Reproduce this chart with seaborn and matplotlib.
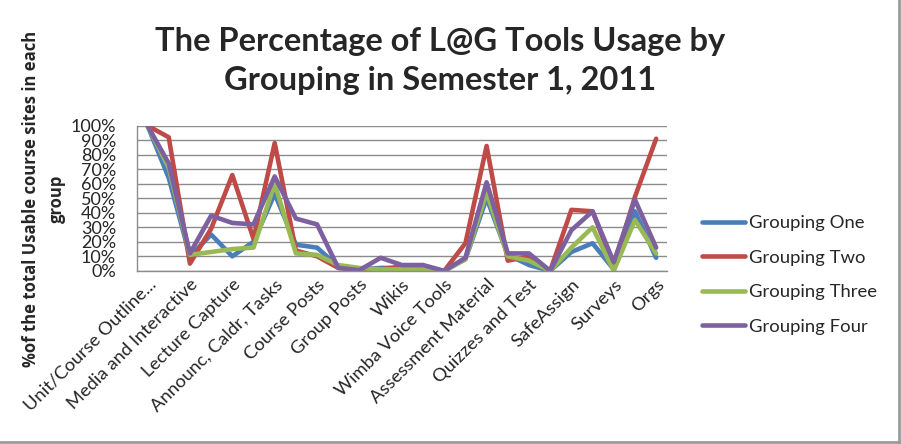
import matplotlib
matplotlib.use("Agg")
import matplotlib.pyplot as plt
from matplotlib.lines import Line2D
from matplotlib.ticker import PercentFormatter
import matplotlib.transforms as mtransforms
import seaborn as sns
import pandas as pd

# Percentage of course sites using each tool, 25 category points (Excel shows every other label)
tick_labels = ["Unit/Course Outline...", "Media and Interactive", "Lecture Capture",
               "Announc, Caldr, Tasks", "Course Posts", "Group Posts", "Wikis",
               "Wimba Voice Tools", "Assessment Material", "Quizzes and Test",
               "SafeAssign", "Surveys", "Orgs"]

group_one = [100, 64, 10, 25, 10, 20, 53, 18, 16, 3, 1, 2, 2, 2, 0, 8, 50, 11, 4, 0, 13, 19, 1, 41, 9]
group_two = [100, 92, 5, 29, 66, 22, 88, 14, 10, 2, 1, 1, 3, 2, 0, 19, 86, 7, 10, 0, 42, 41, 3, 51, 91]
group_three = [100, 71, 11, 13, 15, 16, 60, 12, 11, 4, 2, 1, 1, 1, 0, 8, 54, 10, 7, 0, 16, 30, 0, 35, 12]
group_four = [100, 74, 12, 38, 33, 32, 65, 36, 32, 2, 0.5, 9, 4, 4, 0, 9, 61, 12, 12, 0, 28, 41, 6, 49, 16]

series_names = ["Grouping One", "Grouping Two", "Grouping Three", "Grouping Four"]
colors = ["#4A7EBB", "#BE4B48", "#98B954", "#7D60A0"]

rows = []
for name, vals in zip(series_names, [group_one, group_two, group_three, group_four]):
    for i, v in enumerate(vals):
        rows.append({"pos": i, "pct": v, "group": name})
df = pd.DataFrame(rows)

sns.set_style("white")
plt.rcParams["font.family"] = ["Lato", "DejaVu Sans"]

fig = plt.figure(figsize=(9.01, 4.44), dpi=100)
ax = fig.add_axes([0.152, 0.390, 0.588, 0.327])

sns.lineplot(data=df, x="pos", y="pct", hue="group", palette=colors,
             hue_order=series_names, linewidth=3.3, ax=ax, legend=True)

ax.set_xlim(-0.5, len(group_one) - 0.5)
ax.set_ylim(0, 100)
ax.set_yticks(range(0, 101, 10))
ax.yaxis.set_major_formatter(PercentFormatter(decimals=0))
ax.grid(axis="y", color="#8C8C8C", linewidth=1.0)
ax.set_axisbelow(True)
for side in ["top", "right"]:
    ax.spines[side].set_visible(False)
for side in ["left", "bottom"]:
    ax.spines[side].set_color("#8C8C8C")
    ax.spines[side].set_linewidth(1.0)

ax.set_xticks(range(0, len(group_one), 2))
ax.set_xticklabels(tick_labels, rotation=45, ha="right", rotation_mode="anchor", fontsize=13.2)
shift = mtransforms.ScaledTranslation(10 / 100, -4 / 100, fig.dpi_scale_trans)
for lab in ax.get_xticklabels():
    lab.set_transform(lab.get_transform() + shift)
ax.tick_params(axis="x", length=0, pad=4)
ax.tick_params(axis="y", length=0, pad=15, labelsize=13)
ax.set_xlabel("")
ax.set_ylabel("")

fig.text(0.488, 0.862, "The Percentage of L@G Tools Usage by\nGrouping in Semester 1, 2011",
         ha="center", va="center", fontsize=23.5, fontweight="bold", linespacing=1.4)

fig.text(0.034, 0.553, "%of the total Usable course sites in each", rotation=90,
         ha="center", va="center", fontsize=12, fontweight="bold", family=["Open Sans", "DejaVu Sans"])
fig.text(0.063, 0.553, "group", rotation=90,
         ha="center", va="center", fontsize=12, fontweight="bold", family=["Open Sans", "DejaVu Sans"])

leg = ax.legend(title=None, loc="center left", bbox_to_anchor=(1.036, -0.03), frameon=False,
                fontsize=13.3, handlelength=2.3, handletextpad=0.2, labelspacing=1.0)
for h in leg.get_lines():
    h.set_linewidth(3.3)

fig.add_artist(Line2D([0.998, 0.998], [0.0, 1.0], color="#9A9A9A", linewidth=2))
fig.add_artist(Line2D([0.0, 1.0], [0.004, 0.004], color="#9A9A9A", linewidth=2))

fig.savefig("out.png", dpi=100)
